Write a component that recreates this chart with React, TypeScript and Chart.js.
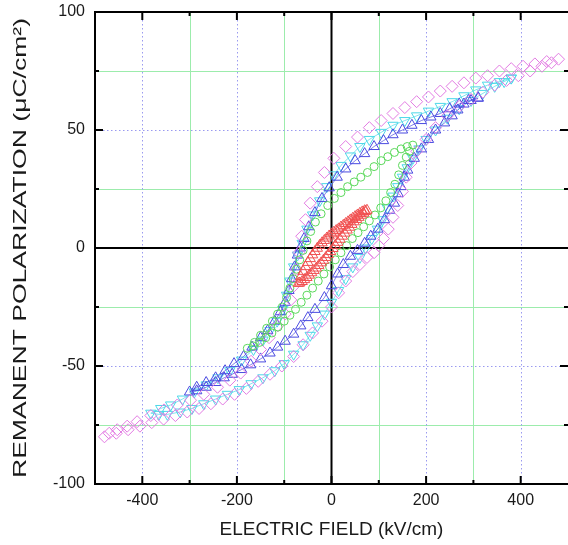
import React, { useEffect, useRef } from 'react';
import { Chart, registerables } from 'chart.js';

Chart.register(...registerables);

// ---- axis / tick definitions ----
const X_TICKS = [-400, -200, 0, 200, 400];
const Y_TICKS = [-100, -50, 0, 50, 100];
const X_MINOR = [-300, -100, 100, 300];
const Y_MINOR = [-75, -25, 25, 75];
const X_GREEN_GRID = [-300, -100, 100, 300];
const X_BLUE_GRID = [-400, -200, 200, 400];
const Y_GREEN_GRID = [-75, -25, 25, 75];
const Y_BLUE_GRID = [-50, 50];

const X_TITLE = 'ELECTRIC FIELD (kV/cm)';
const Y_TITLE = 'REMANENT POLARIZATION (\u03bcC/cm\u00b2)';

// ---- series: magenta diamonds (largest loop) ----
const magentaX = [
  480, 455, 430, 405, 380, 355, 330, 305, 280, 255, 230, 205, 180, 155, 130, 105, 80, 55, 30, 5,
  -15, -30, -45, -55, -63, -69, -74, -79, -86, -98, -114, -132, -150, -170, -192, -215, -241, -270, -298, -326,
  -354, -382, -411, -432, -453, -470,
  -480, -455, -430, -405, -380, -355, -330, -305, -280, -255, -230, -205, -180, -155, -130, -105, -80, -60, -40, -20,
  0, 15, 30, 45, 60, 75, 90, 100, 110, 120, 130, 140, 150, 158, 168, 180, 200, 220, 245, 270,
  295, 320, 345, 370, 395, 420, 445, 465,
];
const magentaY = [
  80, 79, 78, 77, 76, 75, 73, 72, 70, 68.5, 66.5, 64, 62, 59.5, 57, 54, 51, 47, 43, 38,
  32, 26, 19, 12, 5, -2, -9, -16, -22, -28, -33, -38, -43, -48, -53, -56, -59, -62, -64.5, -66.5,
  -68.6, -71, -73.6, -75.5, -77, -78.5,
  -80, -78.5, -77, -75.5, -74, -72.5, -71, -69.5, -68, -66, -64, -62, -59.5, -56.5, -53.5, -50, -46, -41, -36, -31,
  -25, -19, -14, -10, -7, -4, -2, 1, 4, 8, 13, 18, 24, 30, 36, 41, 46, 51, 56, 60,
  63, 66, 69, 71, 73, 75, 77, 78.5,
];

// ---- series: cyan down-triangles ----
const cyanX = [
  380, 355, 330, 305, 280, 255, 230, 205, 180, 155, 130, 105, 80, 60, 40, 20, 5, -10, -25, -40,
  -52, -62, -72, -80, -88, -95, -103, -115, -130, -145, -165, -190, -215, -240, -265, -290, -315, -340, -361,
  -382, -365, -347, -320, -295, -270, -245, -220, -195, -170, -145, -120, -100, -80, -60, -45, -30, -15, 0, 15,
  30, 45, 60, 72, 85, 97, 108, 118, 130, 140, 150, 160, 172, 185, 200, 220, 245, 270, 295, 320,
  345, 365, 380,
];
const cyanY = [
  72, 70.5, 69, 67, 64.5, 62, 60, 58, 56, 54, 52, 49, 46, 43, 39, 35, 31, 26, 20, 14,
  8, 2, -3, -8, -14, -20, -26, -31, -35, -39, -43, -47.5, -52, -55, -58, -61, -64, -66.5, -68,
  -70, -70.5, -70.5, -69.5, -68, -66, -64, -62, -60, -57.5, -55, -52, -49, -45, -41, -37, -33, -28, -23, -18,
  -13, -8, -4, 0, 4, 8, 12, 17, 22, 26, 30, 34, 38, 42, 46, 50, 55, 59, 62.5, 65.5,
  68.5, 70.5, 72,
];

// ---- series: blue up-triangles ----
const blueX = [
  310, 290, 270, 250, 230, 210, 190, 170, 150, 130, 110, 90, 70, 50, 30, 12, -5, -20, -35, -48, -58,
  -66, -72, -78, -84, -90, -98, -108, -120, -135, -150, -168, -186, -206, -225, -245, -265, -285,
  -300, -285, -265, -245, -227, -210, -190, -171, -150, -130, -114, -98, -80, -65, -50, -35, -15, 0, 13, 25,
  40, 55, 70, 83, 98, 112, 123, 133, 141, 147, 154, 161, 175, 190, 205, 220, 239, 255, 267, 280, 295, 310,
];
const blueY = [
  63.5, 62.5, 61, 59, 57, 55.5, 54, 52, 50, 48, 45.5, 43, 40, 37, 33.5, 30, 25.5, 21, 15, 9, 4,
  0, -3, -8, -13, -18, -23, -27, -31, -35, -38, -42, -46, -49, -52, -55, -57, -59,
  -61, -60.5, -59, -57, -55, -53.5, -51.5, -49.5, -47, -44.5, -42, -39.5, -36.5, -33, -29.5, -26, -21, -16, -11, -7,
  -3.5, -1, 2, 5, 8, 12, 16, 19, 23, 26, 30, 33, 38, 42, 46, 50, 53, 56, 58.5, 61, 62.5, 63.5,
];

// ---- series: green circles ----
const greenX = [
  172, 160, 147, 133, 119, 105, 90, 76, 62, 48, 34, 20, 6, -8, -22, -34, -44, -52, -60, -67,
  -74, -81, -88, -95, -104, -114, -125, -137, -150, -163,
  -178, -165, -152, -139, -126, -113, -100, -88, -76, -64, -52, -40, -28, -16, -4, 8, 20, 32, 44, 56,
  68, 80, 92, 104, 115, 125, 134, 142, 150, 158, 165,
];
const greenY = [
  43.6, 43, 42, 40.5, 38.7, 37, 34.5, 32, 30, 28, 26, 23.5, 21, 18, 14.5, 11, 7, 3, -1, -5,
  -9, -13, -17, -21, -25, -28, -31, -34, -37, -40,
  -42.5, -41.5, -40, -38, -36, -33.5, -31, -28.5, -26, -23, -20, -17, -14, -11, -8, -5, -2, 1, 4, 6.5,
  9, 11.5, 14, 17, 20, 23.5, 27, 31, 35, 38.5, 41,
];

// ---- series: red triangles (smallest loop) ----
const redX = [
  75, 70, 65, 60, 55, 50, 45, 40, 35, 30, 25, 20, 15, 10, 5, 0, -5, -10, -15, -20,
  -25, -30, -35, -40, -45, -50, -55, -60, -65, -70,
  -67, -62, -57, -52, -47, -42, -37, -32, -27, -22, -17, -12, -7, -2, 3, 8, 13, 18, 23, 28,
  33, 38, 43, 48, 53, 58, 63, 68, 72,
];
const redY = [
  16, 15.8, 15.3, 14.7, 14, 13.3, 12.6, 11.9, 11.1, 10.4, 9.6, 8.9, 8.1, 7.4, 6.7, 6, 5.1, 4.2, 3.2, 2.2,
  1.1, -0.1, -1.5, -2.9, -4.5, -6.1, -7.9, -9.9, -12.2, -15,
  -14.8, -14.2, -13.4, -12.5, -11.5, -10.5, -9.5, -8.5, -7.4, -6.3, -5.2, -4, -2.8, -1.5, -0.2, 1.1, 2.4, 3.7, 5, 6.3,
  7.6, 8.8, 10, 11.1, 12.1, 13, 13.9, 14.7, 15.5,
];

const toPoints = (xs: number[], ys: number[]) => xs.map((x, i) => ({ x, y: ys[i] }));

const FONT = '"Liberation Sans", Arial, Helvetica, sans-serif';

const framePlugin = {
  id: 'frameGrid',
  beforeDatasetsDraw(chart: any) {
    const { ctx, chartArea: a, scales } = chart;
    const xs = scales.x;
    const ys = scales.y;
    ctx.save();
    const vline = (v: number) => {
      const p = Math.round(xs.getPixelForValue(v)) + 0.5;
      ctx.beginPath();
      ctx.moveTo(p, a.top);
      ctx.lineTo(p, a.bottom);
      ctx.stroke();
    };
    const hline = (v: number) => {
      const p = Math.round(ys.getPixelForValue(v)) + 0.5;
      ctx.beginPath();
      ctx.moveTo(a.left, p);
      ctx.lineTo(a.right, p);
      ctx.stroke();
    };
    ctx.lineWidth = 1;
    ctx.strokeStyle = '#9cecac';
    ctx.setLineDash([]);
    X_GREEN_GRID.forEach(vline);
    Y_GREEN_GRID.forEach(hline);
    ctx.strokeStyle = '#9a9af0';
    ctx.setLineDash([1.5, 2.5]);
    X_BLUE_GRID.forEach(vline);
    Y_BLUE_GRID.forEach(hline);
    ctx.setLineDash([]);
    ctx.strokeStyle = '#000';
    ctx.lineWidth = 2;
    const x0 = xs.getPixelForValue(0);
    const y0 = ys.getPixelForValue(0);
    ctx.beginPath();
    ctx.moveTo(x0, a.top);
    ctx.lineTo(x0, a.bottom);
    ctx.moveTo(a.left, y0);
    ctx.lineTo(a.right, y0);
    ctx.stroke();
    ctx.restore();
  },
  afterDatasetsDraw(chart: any) {
    const { ctx, chartArea: a, scales } = chart;
    const xs = scales.x;
    const ys = scales.y;
    ctx.save();
    ctx.strokeStyle = '#000';
    ctx.lineWidth = 2;
    ctx.beginPath();
    ctx.moveTo(a.right + 2, a.top);
    ctx.lineTo(a.left, a.top);
    ctx.lineTo(a.left, a.bottom);
    ctx.lineTo(a.right + 2, a.bottom);
    ctx.stroke();
    const xt = (v: number, len: number) => {
      const p = xs.getPixelForValue(v);
      ctx.beginPath();
      ctx.moveTo(p, a.bottom);
      ctx.lineTo(p, a.bottom - len);
      ctx.moveTo(p, a.top);
      ctx.lineTo(p, a.top + len);
      ctx.stroke();
    };
    const yt = (v: number, len: number) => {
      const p = ys.getPixelForValue(v);
      ctx.beginPath();
      ctx.moveTo(a.left, p);
      ctx.lineTo(a.left + len, p);
      ctx.moveTo(a.right, p);
      ctx.lineTo(a.right - len, p);
      ctx.stroke();
    };
    X_TICKS.forEach((v) => xt(v, 8));
    X_MINOR.forEach((v) => xt(v, 4));
    Y_TICKS.forEach((v) => yt(v, 8));
    Y_MINOR.forEach((v) => yt(v, 4));
    ctx.restore();
  },
  afterDraw(chart: any) {
    const { ctx, chartArea: a } = chart;
    ctx.save();
    ctx.font = `19px ${FONT}`;
    ctx.fillStyle = '#1a1a1a';
    const w = ctx.measureText(Y_TITLE).width;
    ctx.translate(21, (a.top + a.bottom) / 2);
    ctx.rotate(-Math.PI / 2);
    ctx.scale(460 / w, 1);
    ctx.textAlign = 'center';
    ctx.textBaseline = 'middle';
    ctx.fillText(Y_TITLE, 0, 0);
    ctx.restore();
  },
};

const ds = (label: string, xs: number[], ys: number[], color: string, style: string, radius: number, rotation = 0, line = false) => ({
  label,
  data: toPoints(xs, ys),
  showLine: line,
  borderColor: color,
  borderWidth: 0.7,
  backgroundColor: 'transparent',
  pointStyle: style,
  pointRadius: radius,
  pointRotation: rotation,
  pointBorderColor: color,
  pointBackgroundColor: 'rgba(0,0,0,0)',
  pointBorderWidth: 1,
});

const zeroPadding = (s: any) => {
  s.paddingTop = 0;
  s.paddingBottom = 0;
  s.paddingLeft = 0;
  s.paddingRight = 0;
};

export default function App() {
  const ref = useRef<HTMLCanvasElement>(null);
  useEffect(() => {
    if (!ref.current) return;
    const chart = new Chart(ref.current, {
      type: 'scatter',
      data: {
        datasets: [
          ds('red', redX, redY, '#f05050', 'triangle', 6),
          ds('green', greenX, greenY, '#5ad85a', 'circle', 4),
          ds('magenta', magentaX, magentaY, '#e27ae2', 'rectRot', 6),
          ds('blue', blueX, blueY, '#4a4ae0', 'triangle', 6, 0, true),
          ds('cyan', cyanX, cyanY, '#4cd8e8', 'triangle', 6, 180, true),
        ] as any,
      },
      plugins: [framePlugin],
      options: {
        animation: false,
        responsive: false,
        layout: { autoPadding: false, padding: { top: 12, right: 0, left: 0, bottom: 0 } },
        plugins: { legend: { display: false }, tooltip: { enabled: false } },
        scales: {
          x: {
            type: 'linear',
            min: -500,
            max: 500,
            afterBuildTicks: (s: any) => {
              s.ticks = X_TICKS.map((v) => ({ value: v }));
            },
            afterFit: (s: any) => {
              s.height = 61;
              zeroPadding(s);
            },
            grid: { display: false, drawTicks: false },
            border: { display: false },
            ticks: { font: { family: FONT, size: 16 }, color: '#1a1a1a', padding: 7, maxRotation: 0 },
            title: {
              display: true,
              text: X_TITLE,
              font: { family: FONT, size: 19 },
              color: '#1a1a1a',
              padding: { top: 0, bottom: 4 },
            },
          },
          y: {
            type: 'linear',
            min: -100,
            max: 100,
            afterBuildTicks: (s: any) => {
              s.ticks = Y_TICKS.map((v) => ({ value: v }));
            },
            afterFit: (s: any) => {
              s.width = 95;
              zeroPadding(s);
            },
            grid: { display: false, drawTicks: false },
            border: { display: false },
            ticks: { font: { family: FONT, size: 16 }, color: '#1a1a1a', padding: 10 },
          },
        },
      },
    });
    return () => chart.destroy();
  }, []);
  return (
    <div style={{ position: 'absolute', left: 0, top: 0, width: 568, height: 545, background: '#fff' }}>
      <canvas ref={ref} width={568} height={545} />
    </div>
  );
}
